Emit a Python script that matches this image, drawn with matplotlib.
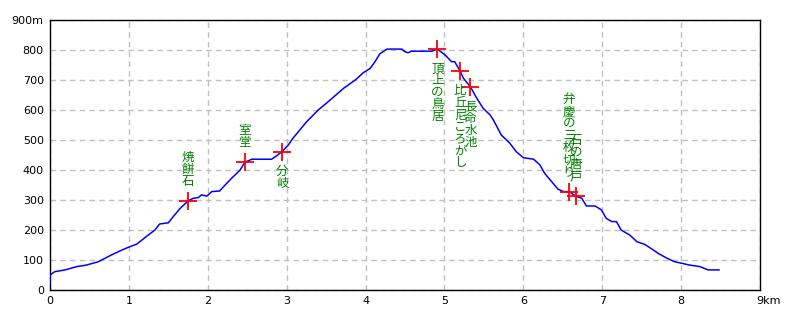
import matplotlib
matplotlib.use("Agg")
import matplotlib.pyplot as plt
import matplotlib.transforms as mtransforms

plt.rcParams['font.family'] = ['Noto Sans CJK JP', 'DejaVu Sans']

# Elevation profile (distance km, elevation m)
dist_km = [0.0, 0.0, 0.06, 0.19, 0.34, 0.46, 0.61, 0.78, 0.91, 0.99, 1.10, 1.23,
           1.33, 1.39, 1.50, 1.56, 1.65, 1.75, 1.82, 1.88, 1.92, 1.99, 2.05, 2.15,
           2.22, 2.30, 2.41, 2.47, 2.56, 2.81, 2.87, 2.94, 3.02, 3.08, 3.15, 3.25,
           3.40, 3.55, 3.72, 3.87, 3.97, 4.06, 4.12, 4.18, 4.27, 4.46, 4.50, 4.54,
           4.58, 4.84, 4.91, 5.01, 5.09, 5.13, 5.20, 5.24, 5.33, 5.41, 5.49, 5.58,
           5.62, 5.72, 5.83, 5.91, 6.00, 6.13, 6.21, 6.27, 6.36, 6.44, 6.51, 6.58,
           6.67, 6.74, 6.80, 6.91, 6.99, 7.05, 7.12, 7.18, 7.24, 7.35, 7.44, 7.54,
           7.65, 7.71, 7.82, 7.92, 8.01, 8.11, 8.24, 8.34, 8.48]
elev_m = [22, 50, 61, 67, 78, 83, 94, 117, 133, 142, 153, 180,
          200, 220, 224, 244, 272, 297, 306, 308, 317, 313, 328, 330,
          350, 372, 400, 426, 436, 436, 447, 461, 483, 506, 528, 560,
          600, 633, 672, 700, 724, 739, 761, 787, 803, 803, 794, 791,
          796, 796, 803, 783, 761, 761, 729, 706, 677, 639, 606, 583,
          567, 517, 489, 461, 441, 436, 417, 389, 361, 336, 328, 328,
          312, 306, 280, 280, 267, 239, 228, 228, 200, 183, 161, 152,
          133, 122, 106, 94, 89, 83, 78, 67, 67]

# Waypoints
wp_names = ["焼餅石", "室堂", "分岐", "頂上の鳥居", "比丘尼ころがし", "長命水池",
            "弁慶の三枚切り", "石の唐戸"]
wp_km = [1.75, 2.47, 2.94, 4.91, 5.20, 5.33, 6.58, 6.67]
wp_m = [297, 426, 461, 803, 729, 677, 328, 312]
wp_above = [True, True, False, False, False, False, True, True]

x_ticks = [0, 1, 2, 3, 4, 5, 6, 7, 8, 9]
x_labels = ["0", "1", "2", "3", "4", "5", "6", "7", "8", "9km"]
y_ticks = [0, 100, 200, 300, 400, 500, 600, 700, 800, 900]
y_labels = ["0", "100", "200", "300", "400", "500", "600", "700", "800", "900m"]

fig = plt.figure(figsize=(8, 3.2), dpi=100)
ax = fig.add_axes([50/800, 30/320, 710/800, 270/320])
ax.set_xlim(0, 9)
ax.set_ylim(0, 900)

ax.grid(True, color='#c0c0c0', linestyle=(0, (4, 3)), linewidth=1)
ax.set_axisbelow(True)

ax.plot(dist_km, elev_m, color='#0000ff', linewidth=1.1, zorder=3)
ax.plot(wp_km, wp_m, linestyle='none', marker='+', markersize=13,
        markeredgewidth=1.3, color='#ff0000', zorder=4)

for name, x, y, above in zip(wp_names, wp_km, wp_m, wp_above):
    txt = "\n".join(name)
    ax.annotate(txt, (x, y), xytext=(0, 9.5 if above else -9.5),
                textcoords='offset points', ha='center',
                va='bottom' if above else 'top', color='#008000',
                fontsize=9, linespacing=0.9, zorder=5)

ax.set_xticks(x_ticks)
ax.set_xticklabels(x_labels, family=['DejaVu Sans'], fontsize=8)
ax.set_yticks(y_ticks)
ax.set_yticklabels(y_labels, family=['DejaVu Sans'], fontsize=8)
ax.tick_params(length=0, pad=4.5)

# shift the "9km" label so the digit sits at the tick
lbl = ax.get_xticklabels()[-1]
lbl.set_horizontalalignment('left')
lbl.set_transform(lbl.get_transform() + mtransforms.ScaledTranslation(-4/100, 0, fig.dpi_scale_trans))

for s in ax.spines.values():
    s.set_color('black')
    s.set_linewidth(1)

fig.savefig('out.png', dpi=100)
